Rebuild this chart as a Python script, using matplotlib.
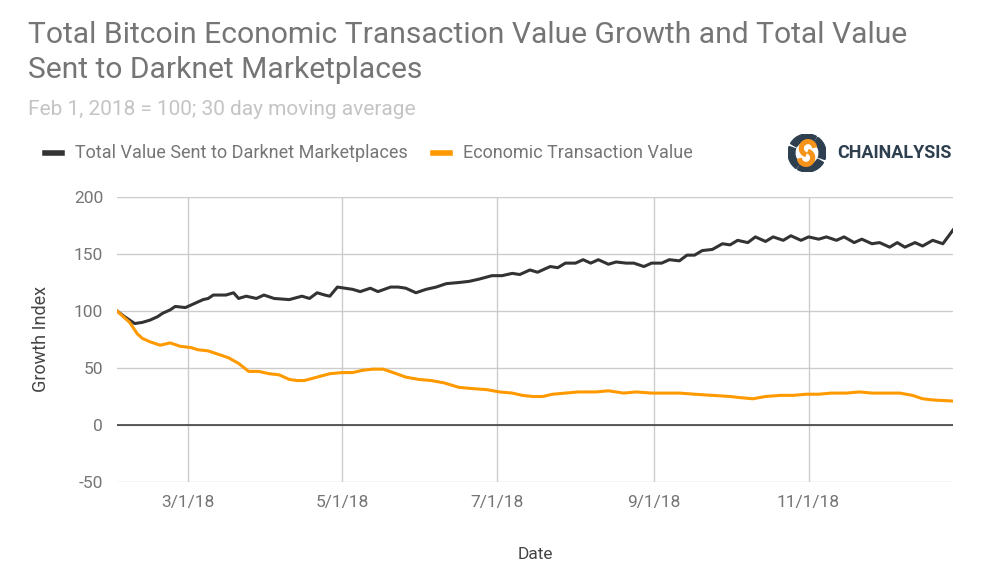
import numpy as np
import pandas as pd
import matplotlib
matplotlib.use("Agg")
import matplotlib.pyplot as plt
from matplotlib.patches import Wedge

plt.rcParams['font.family'] = ['Roboto', 'DejaVu Sans']
plt.rcParams['axes.unicode_minus'] = False

# days since Feb 1, 2018 and index values
darknet_days = [0, 3, 7, 10, 13, 16, 18, 21, 23, 27, 31, 34, 36, 38, 43, 46, 48, 51, 55, 58,
                62, 68, 73, 76, 79, 82, 84, 87, 93, 96, 100, 103, 108, 111, 114, 118, 122, 126,
                130, 135, 139, 143, 148, 152, 156, 159, 163, 166, 171, 174, 177, 181, 184, 187,
                190, 194, 197, 201, 204, 208, 211, 215, 218, 222, 225, 228, 231, 235, 239, 242,
                245, 249, 252, 256, 259, 263, 266, 270, 273, 277, 280, 284, 287, 291, 294, 298,
                301, 305, 308, 311, 315, 318, 322, 326, 330]
darknet_vals = [100, 95, 89, 90, 92, 95, 98, 101, 104, 103, 107, 110, 111, 114, 114, 116, 111, 113, 111, 114,
                111, 110, 113, 111, 116, 114, 113, 121, 119, 117, 120, 117, 121, 121, 120, 116, 119, 121,
                124, 125, 126, 128, 131, 131, 133, 132, 136, 134, 139, 138, 142, 142, 145, 142,
                145, 141, 143, 142, 142, 139, 142, 142, 145, 144, 149, 149, 153, 154, 159, 158,
                162, 160, 165, 161, 165, 162, 166, 162, 165, 163, 165, 162, 165, 160, 163, 159,
                160, 156, 160, 156, 160, 157, 162, 159, 171]

econ_days = [0, 5, 8, 10, 13, 17, 21, 25, 29, 32, 36, 40, 44, 48, 52, 56, 60, 64, 68, 71, 74,
             79, 84, 89, 93, 97, 101, 105, 109, 114, 119, 124, 129, 135, 140, 146, 151, 156, 160,
             164, 168, 172, 177, 182, 189, 194, 200, 205, 211, 217, 222, 228, 235, 242, 246, 251,
             256, 262, 267, 272, 277, 282, 288, 293, 298, 303, 309, 314, 318, 322, 330]
econ_vals = [100, 90, 80, 76, 73, 70, 72, 69, 68, 66, 65, 62, 59, 54, 47, 47, 45, 44, 40, 39, 39,
             42, 45, 46, 46, 48, 49, 49, 46, 42, 40, 39, 37, 33, 32, 31, 29, 28, 26,
             25, 25, 27, 28, 29, 29, 30, 28, 29, 28, 28, 28, 27, 26, 25, 24, 23,
             25, 26, 26, 27, 27, 28, 28, 29, 28, 28, 28, 26, 23, 22, 21]

tick_dates = ["2018-03-01", "2018-05-01", "2018-07-01", "2018-09-01", "2018-11-01"]
tick_labels = ["3/1/18", "5/1/18", "7/1/18", "9/1/18", "11/1/18"]
y_ticks = [-50, 0, 50, 100, 150, 200]

start = pd.Timestamp("2018-02-01")
d_dates = start + pd.to_timedelta(darknet_days, unit="D")
e_dates = start + pd.to_timedelta(econ_days, unit="D")

fig = plt.figure(figsize=(9.98, 5.79), dpi=100)
ax = fig.add_axes([117 / 998, 1 - 482 / 579, (953 - 117) / 998, (482 - 197) / 579])

grey = "#cccccc"
ax.set_ylim(-50, 200)
ax.set_xlim(start, start + pd.Timedelta(days=330))
ax.set_yticks(y_ticks)
ax.set_xticks(pd.to_datetime(tick_dates))
ax.set_xticklabels(tick_labels)
ax.grid(True, color=grey, linewidth=1)
ax.axhline(0, color="#333333", linewidth=1.1, zorder=2)
for s in ax.spines.values():
    s.set_visible(False)
ax.tick_params(length=0, labelsize=12.5, colors="#757575")
ax.tick_params(axis="y", pad=10)
ax.tick_params(axis="x", pad=9)

ax.plot(d_dates, darknet_vals, color="#333333", linewidth=2.2, zorder=3)
ax.plot(e_dates, econ_vals, color="#ff9900", linewidth=2.2, zorder=3)

ax.set_ylabel("Growth Index", fontsize=13, color="#444444", labelpad=17)
ax.set_xlabel("Date", fontsize=12.5, color="#444444", labelpad=27)

# titles
fig.text(28 / 998, 1 - 35 / 579, "Total Bitcoin Economic Transaction Value Growth and Total Value",
         fontsize=21.6, color="#757575", va="center")
fig.text(28 / 998, 1 - 70 / 579, "Sent to Darknet Marketplaces",
         fontsize=21.6, color="#757575", va="center")
fig.text(28 / 998, 1 - 110 / 579, "Feb 1, 2018 = 100; 30 day moving average",
         fontsize=15, color="#c4c4c4", va="center")

# legend
ly = 1 - 153 / 579
fig.lines.append(plt.Line2D([45 / 998, 62 / 998], [ly, ly], transform=fig.transFigure,
                            color="#333333", linewidth=4))
fig.text(75 / 998, ly, "Total Value Sent to Darknet Marketplaces", fontsize=13,
         color="#757575", va="center")
fig.lines.append(plt.Line2D([433 / 998, 450 / 998], [ly, ly], transform=fig.transFigure,
                            color="#ff9900", linewidth=4))
fig.text(463 / 998, ly, "Economic Transaction Value", fontsize=13,
         color="#757575", va="center")

# logo
navy = "#2e3f50"
lax = fig.add_axes([788 / 998, 1 - 172 / 579, 38 / 998, 38 / 579])
lax.set_xlim(-1, 1)
lax.set_ylim(-1, 1)
lax.set_aspect("equal")
lax.axis("off")
for a0, a1 in [(60, 150), (160, 235), (240, 330), (340, 55)]:
    lax.add_patch(Wedge((0, 0), 1.0, a0, a1, width=0.36, color=navy))
lax.add_patch(Wedge((0.05, 0.25), 0.45, 10, 250, width=0.2, color="#f7931a"))
lax.add_patch(Wedge((-0.05, -0.25), 0.45, 190, 70, width=0.2, color="#f7931a"))
fig.text(837 / 998, ly, "CHAINALYSIS", fontsize=13, fontweight="bold", color=navy, va="center")

fig.savefig("out.png", dpi=100)
